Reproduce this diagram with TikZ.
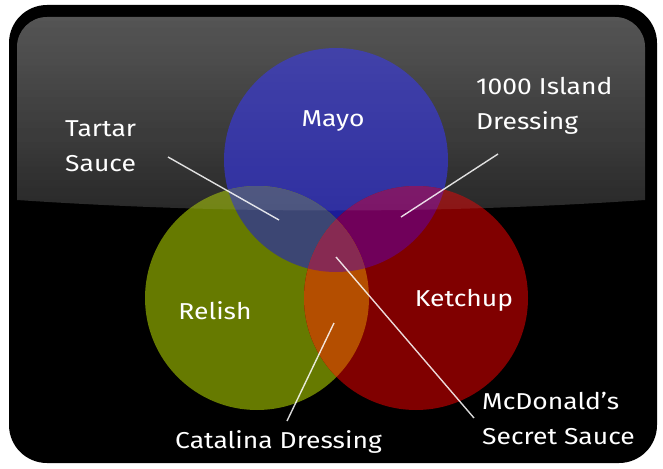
\documentclass[tikz,border=0pt]{standalone}
\usepackage{fontspec}
\setmainfont{Fira Sans}[FakeStretch=1.15]
\usetikzlibrary{fadings}

\definecolor{mayoC}{RGB}{28,28,152}
\definecolor{relishC}{RGB}{102,122,0}
\definecolor{ketchupC}{RGB}{128,0,0}
\definecolor{mrC}{RGB}{60,70,115}
\definecolor{mkC}{RGB}{112,0,90}
\definecolor{rkC}{RGB}{180,78,0}
\definecolor{allC}{RGB}{135,42,82}

\tikzfading[name=glossfade, top color=transparent!0, bottom color=transparent!100]

\tikzset{
  label/.style={text=white, inner sep=0pt, font=\fontsize{23}{35}\selectfont},
  multilabel/.style={label, align=left, anchor=west},
  pointer/.style={draw=white, draw opacity=0.85, line width=1.4pt},
}

\begin{document}
\begin{tikzpicture}[x=1pt,y=-1pt]
  \useasboundingbox (0,0) rectangle (663,468);

  % dark panel
  \fill[black, rounded corners=38pt] (9,5) rectangle (657,463);

  % shape of the glossy upper half
  \def\glosspath{(17,200) {[rounded corners=30pt] -- (17,17) -- (645,17)} -- (645,200)
     .. controls (440,214) and (225,214) .. cycle}

  % gloss behind the circles
  \fill[white, fill opacity=0.08] \glosspath;
  \fill[white, fill opacity=0.12, path fading=glossfade] \glosspath;

  % circle centres
  \coordinate (cM) at (336,160);
  \coordinate (cR) at (257,298);
  \coordinate (cK) at (416,298);
  \def\rad{112pt}

  % single sets
  \fill[mayoC]    (cM) circle[radius=\rad];
  \fill[relishC]  (cR) circle[radius=\rad];
  \fill[ketchupC] (cK) circle[radius=\rad];

  % pairwise overlaps
  \begin{scope}
    \clip (cM) circle[radius=\rad];
    \fill[mrC] (cR) circle[radius=\rad];
  \end{scope}
  \begin{scope}
    \clip (cM) circle[radius=\rad];
    \fill[mkC] (cK) circle[radius=\rad];
  \end{scope}
  \begin{scope}
    \clip (cR) circle[radius=\rad];
    \fill[rkC] (cK) circle[radius=\rad];
  \end{scope}
  % centre overlap
  \begin{scope}
    \clip (cM) circle[radius=\rad];
    \clip (cR) circle[radius=\rad];
    \fill[allC] (cK) circle[radius=\rad];
  \end{scope}

  % gloss over everything
  \fill[white, fill opacity=0.09] \glosspath;
  \fill[white, fill opacity=0.1, path fading=glossfade] \glosspath;

  % labels
  \node[label] (mayo)    at (333,121) {Mayo};
  \node[label] (relish)  at (215,311) {Relish};
  \node[label] (ketchup) at (464,300) {Ketchup};
  \node[multilabel] (tartar)  at (65,146)  {Tartar\\Sauce};
  \node[multilabel] (island)  at (476,106) {1000 Island\\Dressing};
  \node[multilabel] (secret)  at (482,418) {McDonald's\\Secret Sauce};
  \node[label, anchor=west] (catalina) at (175,442) {Catalina Dressing};

  % pointer ends
  \coordinate (tartarTail)   at (168,157);
  \coordinate (tartarTip)    at (279,220);
  \coordinate (islandTail)   at (498,154);
  \coordinate (islandTip)    at (401,217);
  \coordinate (secretTail)   at (474,418);
  \coordinate (secretTip)    at (336,257);
  \coordinate (catalinaTail) at (287,421);
  \coordinate (catalinaTip)  at (334,323);

  \draw[pointer] (tartarTail) -- (tartarTip);
  \draw[pointer] (islandTail) -- (islandTip);
  \draw[pointer] (secretTail) -- (secretTip);
  \draw[pointer] (catalinaTail) -- (catalinaTip);
\end{tikzpicture}
\end{document}
